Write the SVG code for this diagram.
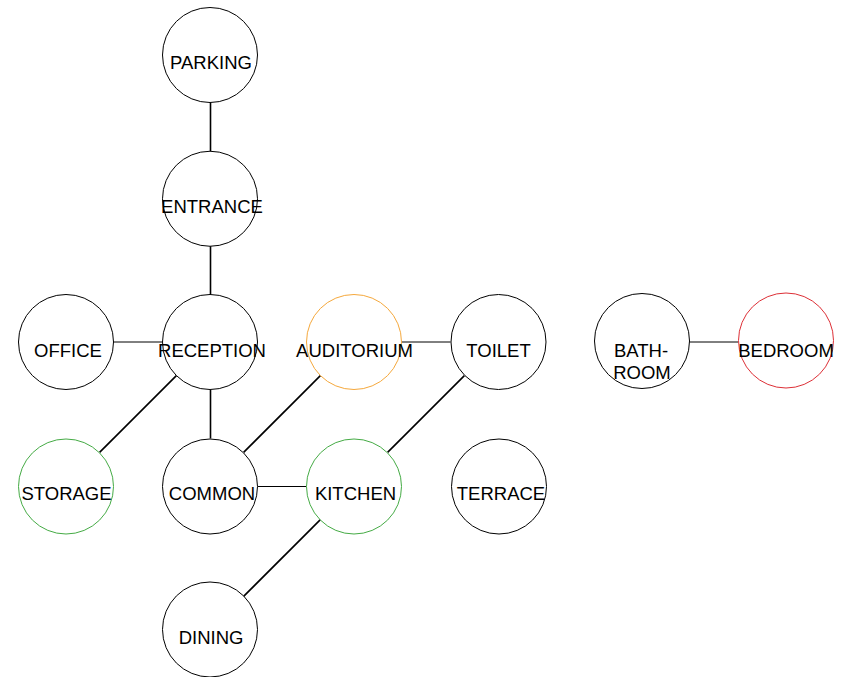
<svg xmlns="http://www.w3.org/2000/svg" width="848" height="677" viewBox="0 0 848 677">
<style>
  .n { fill: #ffffff; stroke: #000000; stroke-width: 1; }
  .orange { stroke: #f5a83c; }
  .red { stroke: #dd2f36; }
  .green { stroke: #45ab45; }
  .t { font-family: "Liberation Sans", Arial, Helvetica, sans-serif; font-size: 18.5px; fill: #000000; text-anchor: middle; }
  .e { stroke: #000000; stroke-width: 1.6; fill: none; }
  .h { stroke: #000000; stroke-width: 1; fill: none; }
</style>
<rect width="848" height="677" fill="#ffffff"/>
<g id="connectors">
  <line class="e" x1="210.5" y1="102.5" x2="210.5" y2="151"/>
  <line class="e" x1="210.5" y1="246" x2="210.5" y2="294.5"/>
  <line class="h" x1="113.5" y1="342" x2="162.5" y2="342"/>
  <line class="e" x1="176.4" y1="375.6" x2="99.6" y2="452.4"/>
  <line class="e" x1="210.5" y1="390" x2="210.5" y2="438.5"/>
  <line class="e" x1="320.4" y1="375.6" x2="243.6" y2="452.4"/>
  <line class="h" x1="401.5" y1="342" x2="450.5" y2="342"/>
  <line class="e" x1="464.4" y1="375.6" x2="387.6" y2="452.4"/>
  <line class="h" x1="257.5" y1="486.5" x2="306.5" y2="486.5"/>
  <line class="e" x1="320.4" y1="519.6" x2="243.6" y2="596.4"/>
  <line class="h" x1="689.5" y1="342" x2="738.5" y2="342"/>
</g>
<g id="parking"><circle class="n" cx="210" cy="55" r="47.5"/><text class="t" x="211" y="69">PARKING</text></g>
<g id="entrance"><circle class="n" cx="210" cy="198.75" r="47.5"/><text class="t" x="212" y="212.8">ENTRANCE</text></g>
<g id="office"><circle class="n" cx="66" cy="342" r="47.5"/><text class="t" x="68" y="356.5">OFFICE</text></g>
<g id="reception"><circle class="n" cx="210" cy="342" r="47.5"/><text class="t" x="212" y="356.5">RECEPTION</text></g>
<g id="auditorium"><circle class="n orange" cx="354" cy="342" r="47.5"/><text class="t" x="354.5" y="356.5">AUDITORIUM</text></g>
<g id="toilet"><circle class="n" cx="498.5" cy="342" r="47.5"/><text class="t" x="498.5" y="356.5">TOILET</text></g>
<g id="bathroom"><circle class="n" cx="642" cy="341" r="47.5"/><text class="t" x="641" y="357">BATH-</text><text class="t" x="642" y="379">ROOM</text></g>
<g id="bedroom"><circle class="n red" cx="786" cy="340.5" r="47.5"/><text class="t" x="786" y="356.5">BEDROOM</text></g>
<g id="storage"><circle class="n green" cx="66" cy="486.5" r="47.5"/><text class="t" x="66.5" y="500.3">STORAGE</text></g>
<g id="common"><circle class="n" cx="210" cy="486.5" r="47.5"/><text class="t" x="212" y="500.3">COMMON</text></g>
<g id="kitchen"><circle class="n green" cx="354" cy="486.5" r="47.5"/><text class="t" x="355.5" y="500.3">KITCHEN</text></g>
<g id="terrace"><circle class="n" cx="499" cy="486.5" r="47.5"/><text class="t" x="501" y="500.3">TERRACE</text></g>
<g id="dining"><circle class="n" cx="210" cy="629.5" r="47.5"/><text class="t" x="211" y="644">DINING</text></g>
</svg>
